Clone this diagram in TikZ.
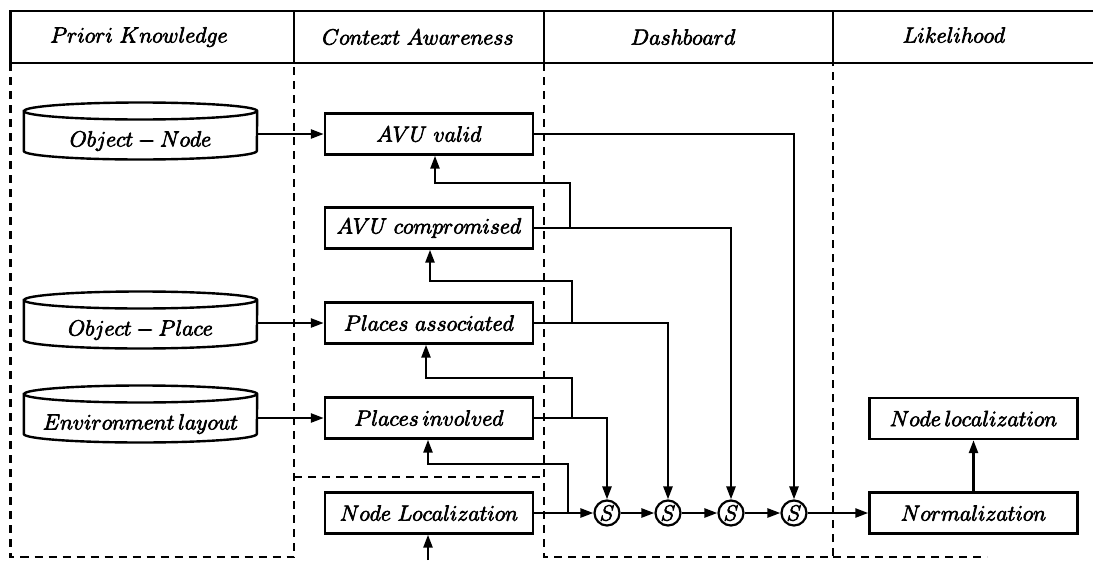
\documentclass[tikz,border=0pt]{standalone}
\usepackage{fix-cm}
\usetikzlibrary{arrows.meta,calc}

% heavier glyphs: fill and stroke the outlines of the letters
\newcommand\heavyglyphs{\special{pdf:literal direct 2 Tr 0.7 w}}

% outline of a database drum around a text node (#1 = node name)
\newcommand\drumoutline[1]{%
  \draw[frame] ([yshift=20pt]#1.west) -- ([yshift=-20pt]#1.west)
     arc[start angle=180,end angle=360,x radius=116.5pt,y radius=8.5pt]
     -- ([yshift=20pt]#1.east)
     arc[start angle=0,end angle=180,x radius=116.5pt,y radius=8.5pt] -- cycle;
  \draw[frame] ([yshift=20pt]#1.west)
     arc[start angle=180,end angle=360,x radius=116.5pt,y radius=8.5pt];
}

\begin{document}
\begin{tikzpicture}[x=1pt,y=-1pt,
  every node/.style={font=\fontsize{22}{26}\selectfont\heavyglyphs},
  frame/.style={line width=2.4pt},
  lane/.style={line width=2.4pt, dash pattern=on 8pt off 6pt},
  stepbox/.style={draw, line width=2.4pt, minimum width=208pt, minimum height=41pt, inner sep=0pt},
  drum/.style={minimum width=233pt, minimum height=40pt, inner sep=0pt,
               text height=31pt, text depth=0pt},
  sum/.style={draw, circle, line width=2.2pt, minimum size=25pt, inner sep=0pt},
  link/.style={line width=2.5pt},
  flow/.style={link, -{Triangle[length=13pt,width=9pt]}},
]
\useasboundingbox (0,0) rectangle (1093,560);

% header row
\draw[frame] (1093,11) -- (10.5,11) -- (10.5,63) -- (1093,63);
\draw[frame] (294,11) -- (294,63) (544,11) -- (544,63) (833,11) -- (833,63);
\node (hpk) at (139,37) {$Priori\ Knowledge$};
\node (hca) at (418,37) {$Context\ Awareness$};
\node (hdb) at (683,37) {$Dashboard$};
\node (hlh) at (954,35) {$Likelihood$};

% swim lanes
\draw[lane] (10.5,63) rectangle (294,557);
\draw[lane] (544,63) rectangle (833,557);
\draw[lane] (294,477) -- (544,477);
\draw[lane] (833,557) -- (987,557);

% knowledge bases
\node[drum] (on) at (140.5,131) {$Object - Node$};
\node[drum] (op) at (140.5,320) {$Object - Place$};
\node[drum] (el) at (140.5,414) {$Environment\,layout$};
\drumoutline{on}
\drumoutline{op}
\drumoutline{el}

% context awareness
\node[stepbox] (avuv) at (429,134) {$AVU\ valid$};
\node[stepbox] (avuc) at (429,228) {$AVU\ compromised$};
\node[stepbox] (pa)   at (429,323) {$Places\ associated$};
\node[stepbox] (pi)   at (429,418) {$Places\,involved$};
\node[stepbox] (nl)   at (429,513) {$Node\ Localization$};

% dashboard
\node[sum] (s1) at (607,513) {$S$};
\node[sum] (s2) at (668,513) {$S$};
\node[sum] (s3) at (731,513) {$S$};
\node[sum] (s4) at (794,513) {$S$};

% likelihood
\node[stepbox] (nloc) at (973.5,418.5) {$Node\,localization$};
\node[stepbox] (norm) at (973.5,513) {$Normalization$};

% inputs
\draw[flow] (on.east |- avuv.west) -- (avuv.west);
\draw[flow] (op.east |- pa.west) -- (pa.west);
\draw[flow] (el.east |- pi.west) -- (pi.west);

% outputs into the sums
\draw[flow] (avuv.east) -| (s4.north);
\draw[flow] (avuc.east) -| (s3.north);
\draw[flow] (pa.east) -| (s2.north);
\draw[flow] (pi.east) -| (s1.north);
\draw[flow] (nl.east) -- (s1.west);
\draw[flow] (s1) -- (s2);
\draw[flow] (s2) -- (s3);
\draw[flow] (s3) -- (s4);
\draw[flow] (s4.east) -- (norm.west);
\draw[flow] (norm.north) -- (nloc.south);

% feedback loops
\coordinate (t1) at (570,183);
\coordinate (t2) at (572,281);
\coordinate (t3) at (572,378);
\coordinate (t4) at (568,464);
\draw[flow] (t1 |- avuc.east) -- (t1) -| ([xshift=6pt]avuv.south);
\draw[flow] (t2 |- pa.east) -- (t2) -| ([xshift=1pt]avuc.south);
\draw[flow] (t3 |- pi.east) -- (t3) -| ([xshift=-3pt]pa.south);
\draw[flow] (t4 |- nl.east) -- (t4) -| ([xshift=-1pt]pi.south);

\coordinate (src) at (428,560);
\draw[flow] (src) -- (src |- nl.south);
\end{tikzpicture}
\end{document}
